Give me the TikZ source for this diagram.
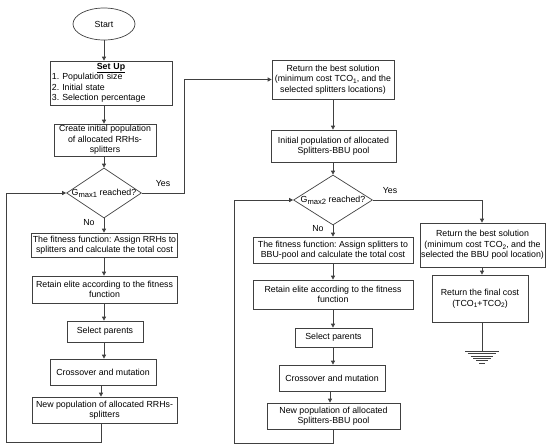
\documentclass[tikz,border=0pt]{standalone}
\usepackage{fontspec}
\setmainfont{Liberation Sans}
\usetikzlibrary{shapes.geometric,arrows.meta,calc}
\definecolor{lc}{HTML}{404040}
\frenchspacing
\newcommand\fs{\fontsize{8.8}{10.5}\selectfont}
\newcommand\sbs[1]{\raisebox{-1.8pt}{\fontsize{6.5}{7}\selectfont #1}}
\newcommand\gsb[1]{\raisebox{-2pt}{\fontsize{7.6}{8}\selectfont #1}}
\tikzset{
  box/.style={draw=lc, line width=0.7pt, rectangle, inner sep=1pt, align=center, font=\fs, text=black},
  dia/.style={draw=lc, line width=0.7pt, diamond, inner sep=0pt, font=\fs},
  arr/.style={draw=lc, line width=0.7pt, -{Triangle[length=4pt,width=4pt]}},
  ln/.style={draw=lc, line width=0.7pt},
  lbl/.style={font=\fs, inner sep=0pt},
}
\begin{document}
\begin{tikzpicture}[x=1pt,y=-1pt]
\useasboundingbox (0,0) rectangle (550,445);
% left column
\node[draw=lc, line width=0.7pt, ellipse, minimum width=62pt, minimum height=32pt, inner sep=0pt, font=\fs] (start) at (104,24) {Start};
\node[box, text width=118pt, align=left, inner sep=2pt, minimum height=44pt] (setup) at (111,83)
  {\makebox[\linewidth]{\underline{\textbf{Set Up}}}\\1. Population size\\2. Initial state\\3. Selection percentage};
\node[box, minimum width=102pt, minimum height=32pt] (create) at (105,140) {Create initial population\\of allocated RRHs-\\splitters};
\node[dia, minimum width=75pt, minimum height=50pt] (d1) at (104,193) {\makebox[0pt]{G\gsb{max1} reached?}};
\node[box, minimum width=145pt, minimum height=24pt] (fit1) at (104.5,245) {The fitness function: Assign RRHs to\\splitters and calculate the total cost};
\node[box, minimum width=145pt, minimum height=27pt] (ret1) at (104.5,289.5) {Retain elite according to the fitness\\function};
\node[box, minimum width=76pt, minimum height=21pt] (sel1) at (105,331.5) {Select parents};
\node[box, minimum width=106pt, minimum height=26pt] (cross1) at (103,372) {Crossover and mutation};
\node[box, minimum width=145pt, minimum height=26pt] (new1) at (104.5,410) {New population of allocated RRHs-\\splitters};
% right column
\node[box, minimum width=122pt, minimum height=39pt] (best1) at (333,79.5) {Return the best solution\\(minimum cost TCO\sbs{1}, and the\\selected splitters locations)};
\node[box, minimum width=125pt, minimum height=32pt] (init2) at (333.5,146) {Initial population of allocated\\Splitters-BBU pool};
\node[dia, minimum width=79pt, minimum height=50pt] (d2) at (333,200) {\makebox[0pt]{G\gsb{max2} reached?}};
\node[box, minimum width=160pt, minimum height=26pt] (fit2) at (333,250) {The fitness function: Assign splitters to\\BBU-pool and calculate the total cost};
\node[box, minimum width=160pt, minimum height=29pt] (ret2) at (333,294.5) {Retain elite according to the fitness\\function};
\node[box, minimum width=77pt, minimum height=19pt] (sel2) at (333.5,337.5) {Select parents};
\node[box, minimum width=106pt, minimum height=26pt] (cross2) at (332,378) {Crossover and mutation};
\node[box, minimum width=133pt, minimum height=26pt] (new2) at (333.5,416) {New population of allocated\\Splitters-BBU pool};
\node[box, minimum width=125pt, minimum height=44pt] (best2) at (482.5,245) {Return the best solution\\(minimum cost TCO\sbs{2}, and the\\selected the BBU pool location)};
\node[box, minimum width=96pt, minimum height=47pt] (final) at (480,298.5) {Return the final cost\\(TCO\sbs{1}+TCO\sbs{2})};
% labels
\node[lbl] (yes1) at (163,184) {Yes};
\node[lbl] (no1) at (89,223) {No};
\node[lbl] (yes2) at (390,191) {Yes};
\node[lbl] (no2) at (318,229) {No};
% coordinates
\coordinate (gnd) at (482,351);
\coordinate (l1a) at (6,442);
\coordinate (l2a) at (234,443);
\coordinate (c1) at (104,0);
\coordinate (c2) at (101,0);
\coordinate (c3) at (184,0);
\coordinate (c4) at (330,0);
% left connectors
\draw[arr] (start.south -| c1) -- (c1 |- setup.north);
\draw[arr] (setup.south -| c1) -- (c1 |- create.north);
\draw[arr] (create.south -| d1.north) -- (d1.north);
\draw[arr] (d1.south) -- (d1.south |- fit1.north);
\draw[arr] (fit1.south -| d1.south) -- (d1.south |- ret1.north);
\draw[arr] (ret1.south -| d1.south) -- (d1.south |- sel1.north);
\draw[arr] (sel1.south -| d1.south) -- (d1.south |- cross1.north);
\draw[arr] (cross1.south -| c2) -- (c2 |- new1.north);
\draw[arr] (new1.south -| c2) -- (c2 |- l1a) -- (l1a) -- (l1a |- d1.west) -- (d1.west);
\draw[arr] (d1.east) -- (c3 |- d1.east) -- (c3 |- best1.west) -- (best1.west);
% right connectors
\draw[arr] (best1.south -| d2.north) -- (d2.north |- init2.north);
\draw[arr] (init2.south -| d2.north) -- (d2.north);
\draw[arr] (d2.south) -- (d2.south |- fit2.north);
\draw[arr] (fit2.south -| d2.south) -- (d2.south |- ret2.north);
\draw[arr] (ret2.south -| d2.south) -- (d2.south |- sel2.north);
\draw[arr] (sel2.south -| d2.south) -- (d2.south |- cross2.north);
\draw[arr] (cross2.south -| c4) -- (c4 |- new2.north);
\draw[arr] (new2.south -| d2.south) -- (d2.south |- l2a) -- (l2a) -- (l2a |- d2.west) -- (d2.west);
\draw[arr] (d2.east) -- (gnd |- d2.east) -- (gnd |- best2.north);
\draw[arr] (best2.south -| gnd) -- (gnd |- final.north);
\draw[ln] (final.south -| gnd) -- (gnd);
% ground symbol
\foreach \i/\w in {0/17,1/14.2,2/11.4,3/8.6,4/5.8,5/3} {
  \draw[ln, line width=0.6pt] ($(gnd)+(-\w,2.4*\i)$) -- ($(gnd)+(\w,2.4*\i)$);
}
\end{tikzpicture}
\end{document}
